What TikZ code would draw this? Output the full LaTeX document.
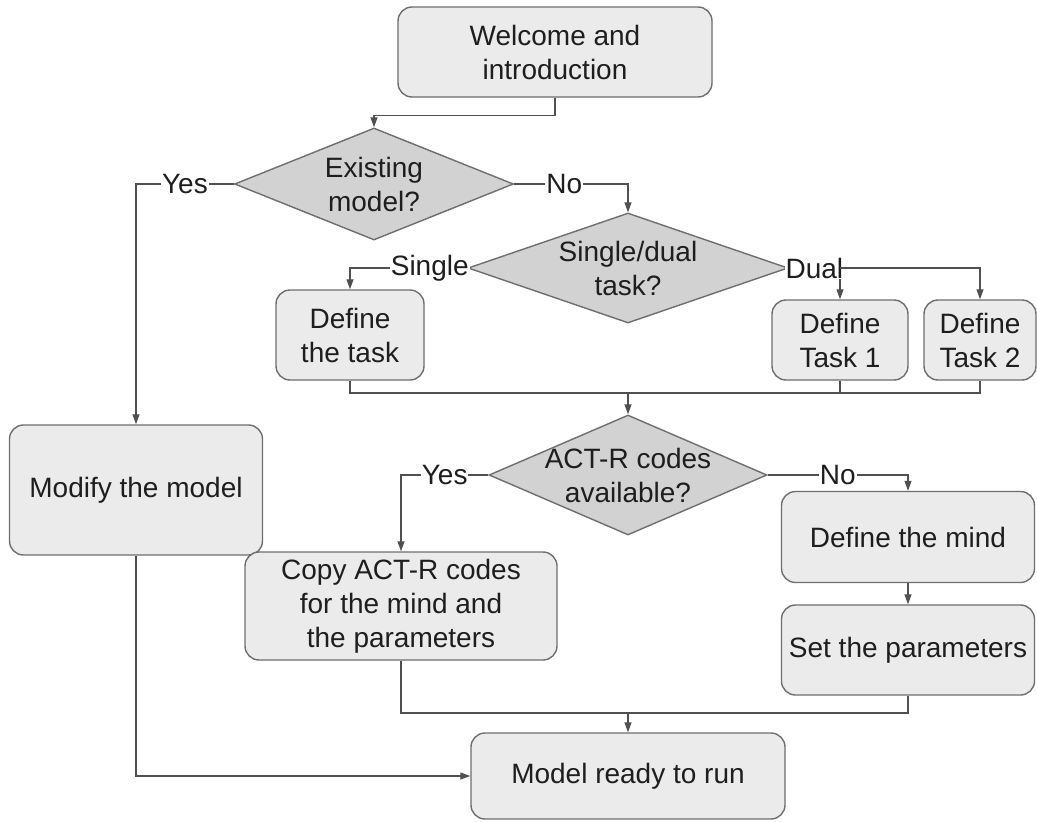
\documentclass[tikz,border=0pt]{standalone}
\usepackage{fontspec}
\setmainfont{Liberation Sans}
\usetikzlibrary{arrows.meta,shapes.geometric}
\definecolor{boxfill}{HTML}{EBEBEB}
\definecolor{decfill}{HTML}{D2D2D2}
\definecolor{rimgray}{HTML}{6E6E6E}
\definecolor{linegray}{HTML}{505050}
\definecolor{inkgray}{HTML}{1E1E1E}

\begin{document}
\begin{tikzpicture}[x=1pt,y=-1pt,font=\fontsize{28}{34}\selectfont,text=inkgray]
    \useasboundingbox (0,0) rectangle (1037,822);
    \begin{scope}[every node/.style={draw=rimgray,line width=1.4pt,align=center}]
      \node[shape=rectangle,rounded corners=14,fill=boxfill,minimum width=314,minimum height=90]
      (welcome) at (555,52) {Welcome and\\introduction};

      \node[shape=diamond,aspect=2.49,fill=decfill,inner xsep=-12pt,inner ysep=0pt,minimum width=279,minimum height=112]
      (exist) at (374,184) {Existing\\model?};
      \node[shape=diamond,aspect=2.9,fill=decfill,inner xsep=-12pt,inner ysep=0pt,minimum width=320,minimum height=110]
      (dual) at (628,268) {Single/dual\\task?};

      \node[shape=rectangle,rounded corners=14,fill=boxfill,minimum width=148,minimum height=90] (deftask) at (350,335) {Define\\the task};
      \node[shape=rectangle,rounded corners=14,fill=boxfill,minimum width=136,minimum height=80] (task1) at (840,340) {Define\\Task 1};
      \node[shape=rectangle,rounded corners=14,fill=boxfill,minimum width=112,minimum height=80] (task2) at (980,340) {Define\\Task 2};

      \node[shape=rectangle,rounded corners=14,fill=boxfill,minimum width=253,minimum height=130] (modify) at (136,490) {Modify the model};

      \node[shape=diamond,aspect=2.32,fill=decfill,inner xsep=-14pt,inner ysep=0pt,minimum width=278,minimum height=120]
      (codes) at (628,475) {ACT-R codes\\available?};

      \node[shape=rectangle,rounded corners=14,fill=boxfill,minimum width=312,minimum height=108] (copy) at (401,606) {Copy ACT-R codes\\for the mind and\\the parameters};
      \node[shape=rectangle,rounded corners=14,fill=boxfill,minimum width=253,minimum height=91] (mind) at (908,537) {Define the mind};
      \node[shape=rectangle,rounded corners=14,fill=boxfill,minimum width=253,minimum height=90] (params) at (908,650) {Set the parameters};

      \node[shape=rectangle,rounded corners=14,fill=boxfill,minimum width=314,minimum height=86] (ready) at (628,776) {Model ready to run};
    \end{scope}

    \begin{scope}[>={Triangle[length=10pt,width=7pt]},
        every node/.style={fill=white,inner sep=1pt},
        every path/.style={draw=linegray,line width=1.2pt}]
      \draw[->] (welcome.south) -- ++(0,18) -| (exist.north);
      \draw[->] (exist.west) -| node[pos=.25] {Yes} (modify.north);
      \draw[->] (exist.east) -| node[pos=.22] {No} (dual.north);
      \draw[->] (dual.west) -| node[pos=.16] {Single} (deftask.north);
      \draw[->] (dual.east) -| node[pos=.25] {Dual} (task1.north);
      \draw[->] (task1.north |- dual.east) -| (task2.north);

      \coordinate (joinA) at (dual.south |- 0,393);
      \draw (deftask.south) |- (joinA) -| (task2.south);
      \draw (task1.south) -- (task1.south |- joinA);
      \draw[->] (joinA) -- (codes.north);

      \draw[->] (codes.west) -| node[pos=.25] {Yes} (copy.north);
      \draw[->] (codes.east) -| node[pos=.25] {No} (mind.north);
      \draw[->] (mind) -- (params);

      \coordinate (joinB) at (codes.south |- 0,713);
      \draw (copy.south) |- (joinB) -| (params.south);
      \draw[->] (joinB) -- (ready.north);
      \draw[->] (modify.south) |- (ready.west);
    \end{scope}
\end{tikzpicture}
\end{document}
